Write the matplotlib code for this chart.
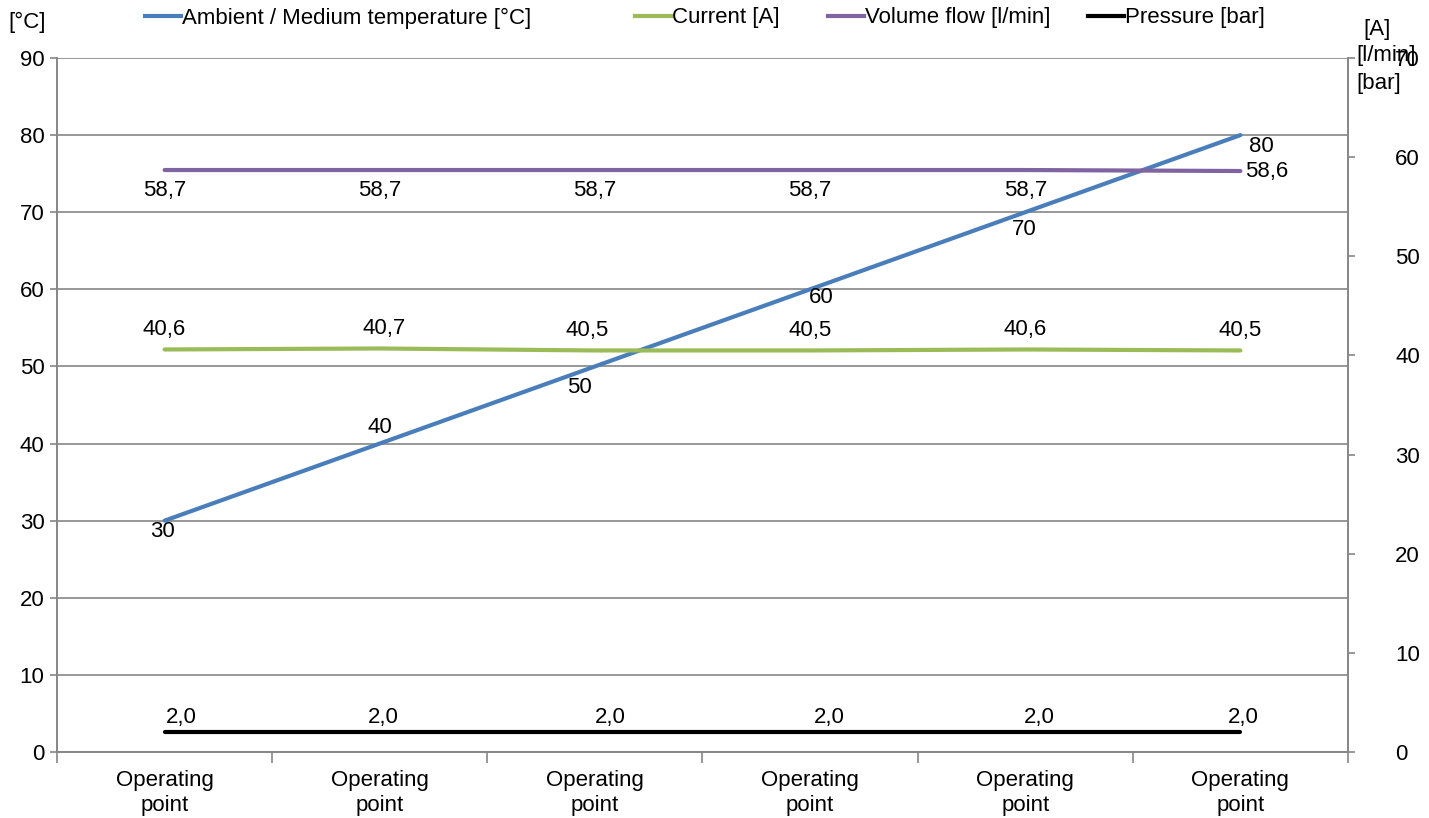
import matplotlib
matplotlib.use("Agg")
import matplotlib.pyplot as plt
from matplotlib.lines import Line2D

# data
categories = ["Operating\npoint"] * 6
temperature = [30, 40, 50, 60, 70, 80]
current = [40.6, 40.7, 40.5, 40.5, 40.6, 40.5]
volume_flow = [58.7, 58.7, 58.7, 58.7, 58.7, 58.6]
pressure = [2.0, 2.0, 2.0, 2.0, 2.0, 2.0]
left_ticks = list(range(0, 91, 10))
right_ticks = list(range(0, 71, 10))

# label offsets in pixels (dx, dy)
temp_off = [(-2, -11), (0, 16), (-15, -21), (11, -8), (-1, -17), (21, -11)]
cur_off = [(0, 20), (4, 20), (-8, 20), (0, 20), (0, 20), (0, 20)]
vol_off = [(0, -20)] * 5 + [(26, 0)]
pres_off = [(17, 15), (4, 15), (15, 15), (19, 15), (14, 15), (3, 15)]

BLUE, GREEN, PURPLE, BLACK = "#4A7EBB", "#9BBB59", "#8064A2", "#000000"
GRID = "#868686"
FS = 16

plt.rcParams["font.family"] = ["Liberation Sans", "DejaVu Sans"]
fig = plt.figure(figsize=(14.29, 8.18), dpi=100)
ax = fig.add_axes([0.0399, 0.0807, 0.9034, 0.8484])
ax2 = ax.twinx()

x = [i + 0.5 for i in range(len(categories))]
ax.set_xlim(0, 6)
ax.set_ylim(0, 90)
ax2.set_ylim(0, 70)

lw = 3.0
l1, = ax.plot(x, temperature, color=BLUE, lw=lw, solid_capstyle="round", zorder=3)
l2, = ax2.plot(x, current, color=GREEN, lw=lw, solid_capstyle="round")
l3, = ax2.plot(x, volume_flow, color=PURPLE, lw=lw, solid_capstyle="round")
l4, = ax2.plot(x, pressure, color=BLACK, lw=lw, solid_capstyle="round")

def fmt(v, dec):
    s = f"{v:.{dec}f}" if dec else f"{v:.0f}"
    return s.replace(".", ",")

for xi, v, o in zip(x, temperature, temp_off):
    ax.annotate(fmt(v, 0), (xi, v), xytext=o, textcoords="offset pixels",
                ha="center", va="center", fontsize=FS)
for series, offs in ((current, cur_off), (volume_flow, vol_off), (pressure, pres_off)):
    for xi, v, o in zip(x, series, offs):
        ax2.annotate(fmt(v, 1), (xi, v), xytext=o, textcoords="offset pixels",
                     ha="center", va="center", fontsize=FS)

# axes styling
ax.set_yticks(left_ticks)
ax.yaxis.grid(True, color=GRID, lw=1.2)
ax.set_axisbelow(True)
ax.set_xticks(x)
ax.set_xticklabels(categories, fontsize=FS, linespacing=1.25)
ax.set_xticks(range(7), minor=True)
ax.tick_params(axis="x", which="major", length=0, pad=13)
ax.tick_params(axis="x", which="minor", length=8, color=GRID, width=1.2, direction="out")
ax.tick_params(axis="y", labelsize=FS, length=5, color=GRID, width=1.2, pad=4)
ax2.set_yticks(right_ticks)
ax2.tick_params(axis="y", labelsize=FS, length=5, color=GRID, width=1.2, pad=29)
for a in (ax, ax2):
    a.spines["top"].set_visible(False)
    for s in ("left", "right", "bottom"):
        a.spines[s].set_color(GRID)
        a.spines[s].set_linewidth(1.2)

fig.text(8 / 1429, 1 - 22 / 818, "[°C]", fontsize=FS, ha="left", va="center")
fig.text(1363 / 1429, 1 - 29 / 818, "[A]", fontsize=FS, ha="left", va="center")
fig.text(1356 / 1429, 1 - 56 / 818, "[l/min]", fontsize=FS, ha="left", va="center")
fig.text(1356 / 1429, 1 - 83 / 818, "[bar]", fontsize=FS, ha="left", va="center")

# legend, one entry per box like the original
names = ["Ambient / Medium temperature [°C]", "Current [A]",
         "Volume flow [l/min]", "Pressure [bar]"]
handles = [l1, l2, l3, l4]
lefts = [145, 635, 828, 1088]
for h, n, left in zip(handles, names, lefts):
    fig.legend([Line2D([], [], color=h.get_color(), lw=lw)], [n],
               loc="center left", bbox_to_anchor=(left / 1429, 1 - 18 / 818),
               frameon=False, fontsize=FS, handlelength=1.6, handletextpad=0.05,
               borderpad=0, borderaxespad=0)

fig.savefig("out.png", dpi=100)
